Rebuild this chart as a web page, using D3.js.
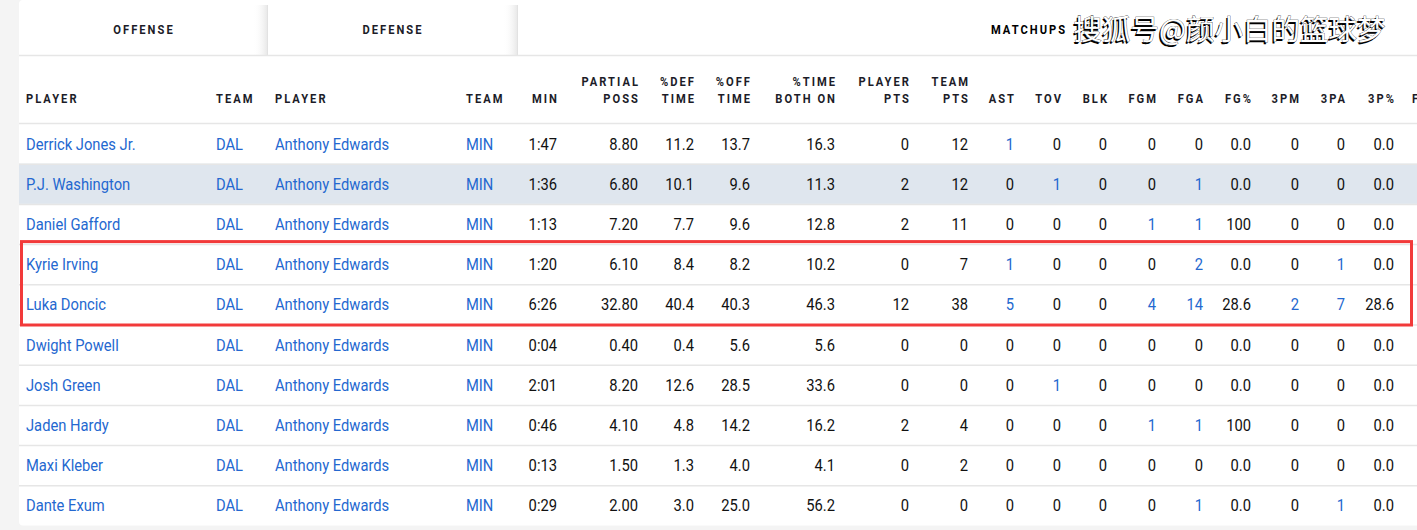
<!DOCTYPE html>
<html>
<head>
<meta charset="utf-8">
<script src="https://cdn.jsdelivr.net/npm/d3@7"></script>
<style>
body { margin: 0; background: #f4f4f4; }
svg { display: block; }
</style>
</head>
<body>
<svg id="table" width="1417" height="530"></svg>
<script>
// table values
var offPlayers = ["Derrick Jones Jr.", "P.J. Washington", "Daniel Gafford", "Kyrie Irving", "Luka Doncic",
	"Dwight Powell", "Josh Green", "Jaden Hardy", "Maxi Kleber", "Dante Exum"];
var offTeams = ["DAL", "DAL", "DAL", "DAL", "DAL", "DAL", "DAL", "DAL", "DAL", "DAL"];
var defPlayers = ["Anthony Edwards", "Anthony Edwards", "Anthony Edwards", "Anthony Edwards", "Anthony Edwards",
	"Anthony Edwards", "Anthony Edwards", "Anthony Edwards", "Anthony Edwards", "Anthony Edwards"];
var defTeams = ["MIN", "MIN", "MIN", "MIN", "MIN", "MIN", "MIN", "MIN", "MIN", "MIN"];
var minutes = ["1:47", "1:36", "1:13", "1:20", "6:26", "0:04", "2:01", "0:46", "0:13", "0:29"];
var partialPoss = ["8.80", "6.80", "7.20", "6.10", "32.80", "0.40", "8.20", "4.10", "1.50", "2.00"];
var defTime = ["11.2", "10.1", "7.7", "8.4", "40.4", "0.4", "12.6", "4.8", "1.3", "3.0"];
var offTime = ["13.7", "9.6", "9.6", "8.2", "40.3", "5.6", "28.5", "14.2", "4.0", "25.0"];
var bothOn = ["16.3", "11.3", "12.8", "10.2", "46.3", "5.6", "33.6", "16.2", "4.1", "56.2"];
var playerPts = [0, 2, 2, 0, 12, 0, 0, 2, 0, 0];
var teamPts = [12, 12, 11, 7, 38, 0, 0, 4, 2, 0];
var ast = [1, 0, 0, 1, 5, 0, 0, 0, 0, 0];
var tov = [0, 1, 0, 0, 0, 0, 1, 0, 0, 0];
var blk = [0, 0, 0, 0, 0, 0, 0, 0, 0, 0];
var fgm = [0, 0, 1, 0, 4, 0, 0, 1, 0, 0];
var fga = [0, 1, 1, 2, 14, 0, 0, 1, 0, 1];
var fgPct = ["0.0", "0.0", "100", "0.0", "28.6", "0.0", "0.0", "100", "0.0", "0.0"];
var tpm = [0, 0, 0, 0, 2, 0, 0, 0, 0, 0];
var tpa = [0, 0, 0, 1, 7, 0, 0, 0, 0, 1];
var tpPct = ["0.0", "0.0", "0.0", "0.0", "28.6", "0.0", "0.0", "0.0", "0.0", "0.0"];

var tabLabels = ["OFFENSE", "DEFENSE", "MATCHUPS"];
var headerTop = ["", "", "", "", "", "PARTIAL", "%DEF", "%OFF", "%TIME", "PLAYER", "TEAM",
	"", "", "", "", "", "", "", "", "", ""];
var headerBottom = ["PLAYER", "TEAM", "PLAYER", "TEAM", "MIN", "POSS", "TIME", "TIME", "BOTH ON", "PTS", "PTS",
	"AST", "TOV", "BLK", "FGM", "FGA", "FG%", "3PM", "3PA", "3P%", "F"];
var highlightRows = [3, 4];
var shadedRow = 1;
var watermark = "搜狐号@颜小白的篮球梦";

// columns: values, link style, anchor
var columns = [
	{ key: "off", values: offPlayers, link: "all", anchor: "start" },
	{ key: "offTeam", values: offTeams, link: "all", anchor: "start" },
	{ key: "def", values: defPlayers, link: "all", anchor: "start" },
	{ key: "defTeam", values: defTeams, link: "all", anchor: "start" },
	{ key: "min", values: minutes, link: "none", anchor: "end" },
	{ key: "poss", values: partialPoss, link: "none", anchor: "end" },
	{ key: "defTime", values: defTime, link: "none", anchor: "end" },
	{ key: "offTime", values: offTime, link: "none", anchor: "end" },
	{ key: "both", values: bothOn, link: "none", anchor: "end" },
	{ key: "pPts", values: playerPts, link: "none", anchor: "end" },
	{ key: "tPts", values: teamPts, link: "none", anchor: "end" },
	{ key: "ast", values: ast, link: "nonzero", anchor: "end" },
	{ key: "tov", values: tov, link: "nonzero", anchor: "end" },
	{ key: "blk", values: blk, link: "nonzero", anchor: "end" },
	{ key: "fgm", values: fgm, link: "nonzero", anchor: "end" },
	{ key: "fga", values: fga, link: "nonzero", anchor: "end" },
	{ key: "fgPct", values: fgPct, link: "none", anchor: "end" },
	{ key: "tpm", values: tpm, link: "nonzero", anchor: "end" },
	{ key: "tpa", values: tpa, link: "nonzero", anchor: "end" },
	{ key: "tpPct", values: tpPct, link: "none", anchor: "end" },
	{ key: "ftm", values: [], link: "none", anchor: "start" }
];

var W = 1417, H = 530;
var BLUE = "#2468d0", INK = "#111", HEAD = "#1c1c28", LINE = "#e6e6e6";
var SX = 0.845, CX = 0.91;

var x = d3.scaleOrdinal()
	.domain(columns.map(function(c) { return c.key; }))
	.range([26, 216, 275, 466, 557, 638, 694, 750, 835, 909, 968,
		1014, 1061, 1107, 1156, 1203, 1251, 1299, 1345, 1394, 1412]);

var y = d3.scaleBand()
	.domain(d3.range(offPlayers.length))
	.range([123.5, 525.5]);

var svg = d3.select("#table");

svg.append("rect").attr("width", W).attr("height", H).attr("fill", "#f4f4f4");
svg.append("rect").attr("x", 19).attr("y", 0).attr("width", W + 10).attr("height", 525.5)
	.attr("rx", 4).attr("fill", "#fff");

// tabs
var defs = svg.append("defs");
var grad = defs.append("linearGradient").attr("id", "tabShade");
grad.append("stop").attr("offset", "0").attr("stop-color", "#fff").attr("stop-opacity", 0);
grad.append("stop").attr("offset", "1").attr("stop-color", "#e9e9e9");

var tabX = d3.scaleOrdinal().domain(tabLabels).range([143, 392, 1028]);
[267, 517].forEach(function(edge) {
	svg.append("rect").attr("x", edge - 14).attr("y", 5).attr("width", 14).attr("height", 50)
		.attr("fill", "url(#tabShade)");
	svg.append("line").attr("x1", edge + 0.5).attr("x2", edge + 0.5).attr("y1", 5).attr("y2", 55)
		.attr("stroke", "#e2e2e2");
});
svg.append("line").attr("x1", 19).attr("x2", W).attr("y1", 55.5).attr("y2", 55.5)
	.attr("stroke", LINE).attr("stroke-width", 1.5);

svg.selectAll("text.tab").data(tabLabels).enter().append("text")
	.attr("class", "tab")
	.attr("transform", function(d) { return "translate(" + (tabX(d) + 1) + ",34) scale(" + SX + ",1)"; })
	.attr("text-anchor", "middle")
	.attr("font-family", "Roboto")
	.attr("font-weight", 700)
	.attr("font-size", 13.2)
	.attr("letter-spacing", 2.4)
	.attr("fill", function(d, i) { return i == 2 ? "#000" : HEAD; })
	.text(function(d) { return d; });

// watermark
var wm = svg.append("g").attr("font-family", "Noto Sans CJK SC").attr("font-size", 28.5);
wm.append("text").attr("x", 1072).attr("y", 41.5).attr("fill", "#000").text(watermark);
wm.append("text").attr("x", 1073.5).attr("y", 40).attr("fill", "#fff")
	.attr("stroke", "#222").attr("stroke-width", 0.6).attr("paint-order", "stroke").text(watermark);

// header
function headerText(cls, labels, baseline) {
	svg.selectAll("text." + cls).data(columns).enter().append("text")
		.attr("class", cls)
		.attr("transform", function(c) {
			var px = x(c.key) + (c.anchor == "end" ? 2.0 : 0);
			return "translate(" + px + "," + baseline + ") scale(" + SX + ",1)";
		})
		.attr("text-anchor", function(c) { return c.anchor; })
		.attr("font-family", "Roboto")
		.attr("font-weight", 700)
		.attr("font-size", 13.2)
		.attr("letter-spacing", 2.4)
		.attr("fill", HEAD)
		.text(function(c, i) { return labels[i]; });
}
headerText("htop", headerTop, 86);
headerText("hbot", headerBottom, 103);

svg.append("line").attr("x1", 19).attr("x2", W).attr("y1", 123.5).attr("y2", 123.5)
	.attr("stroke", LINE).attr("stroke-width", 1.5);

// rows
svg.append("rect").attr("x", 19).attr("y", y(shadedRow)).attr("width", W)
	.attr("height", y.bandwidth()).attr("fill", "#dfe6ee");

svg.selectAll("line.sep").data(d3.range(1, offPlayers.length)).enter().append("line")
	.attr("class", "sep")
	.attr("x1", 19).attr("x2", W)
	.attr("y1", function(i) { return y(i) + 0.5; })
	.attr("y2", function(i) { return y(i) + 0.5; })
	.attr("stroke", LINE).attr("stroke-width", 1.5);

var cells = [];
columns.forEach(function(c) {
	c.values.forEach(function(v, i) {
		var blue = c.link == "all" || (c.link == "nonzero" && +v > 0);
		cells.push({ col: c, row: i, value: v, blue: blue });
	});
});

svg.selectAll("text.cell").data(cells).enter().append("text")
	.attr("class", "cell")
	.attr("transform", function(d) {
		return "translate(" + x(d.col.key) + "," + (y(d.row) + y.bandwidth() / 2 + 6) + ") scale(" + CX + ",1)";
	})
	.attr("text-anchor", function(d) { return d.col.anchor; })
	.attr("font-family", "Roboto")
	.attr("font-size", 16.2)
	.attr("fill", function(d) { return d.blue ? BLUE : INK; })
	.text(function(d) { return d.value; });

// highlight box
var hTop = y(d3.min(highlightRows)), hBot = y(d3.max(highlightRows)) + y.bandwidth();
svg.append("rect")
	.attr("x", 21.5).attr("y", hTop - 2.5)
	.attr("width", 1390).attr("height", hBot - hTop + 3)
	.attr("fill", "none").attr("stroke", "#f23a3a").attr("stroke-width", 3);
</script>
</body>
</html>
